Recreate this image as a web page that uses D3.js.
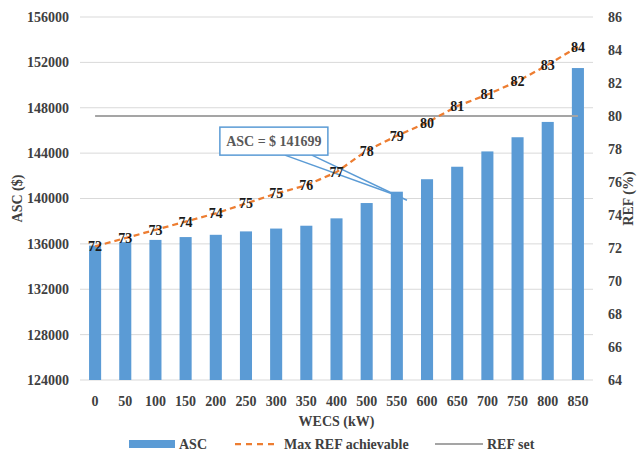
<!DOCTYPE html>
<html>
<head>
<meta charset="utf-8">
<script src="https://cdn.jsdelivr.net/npm/d3@7"></script>
<style>
  html, body { margin: 0; padding: 0; background: #fff; }
  svg { display: block; }
  svg text { font-family: "Liberation Serif", "DejaVu Serif", "Times New Roman", Times, serif !important; font-weight: bold; }
</style>
</head>
<body>
<svg id="chart" width="640" height="451"></svg>
<script>
// WECS size categories (kW)
const wecs = ["0","50","100","150","200","250","300","350","400","500","550","600","650","700","750","800","850"];
// Annual system cost ($)
const asc = [135850, 136150, 136350, 136600, 136800, 137100, 137350, 137600, 138250, 139600, 140600, 141699, 142800, 144150, 145400, 146750, 151500];
// Maximum renewable energy fraction achievable (%)
const refMax = [72.1, 72.6, 73.1, 73.6, 74.1, 74.7, 75.3, 75.8, 76.6, 77.9, 78.8, 79.6, 80.6, 81.3, 82.1, 83.1, 84.2];
// Renewable energy fraction target (%)
const refSet = 80;
// Axis ticks
const ascTicks = [124000, 128000, 132000, 136000, 140000, 144000, 148000, 152000, 156000];
const refTicks = [64, 66, 68, 70, 72, 74, 76, 78, 80, 82, 84, 86];
// Highlighted annotation
const calloutCategory = "600";
const calloutText = "ASC = $ 141699";

const FONT = "'Liberation Serif', 'DejaVu Serif', serif";
const svg = d3.select("#chart");
const m = { left: 80, right: 593, top: 17, bottom: 380 };

const x = d3.scaleBand().domain(wecs).range([m.left, m.right]);
const yL = d3.scaleLinear().domain([124000, 156000]).range([m.bottom, m.top]);
const yR = d3.scaleLinear().domain([64, 86]).range([m.bottom, m.top]);
const barW = x.step() * 0.4;
const cx = d => x(d) + x.bandwidth() / 2;

// Gridlines
svg.append("g").selectAll("line").data(ascTicks).join("line")
  .attr("x1", m.left).attr("x2", m.right)
  .attr("y1", d => yL(d)).attr("y2", d => yL(d))
  .attr("stroke", "#d9d9d9").attr("stroke-width", 1);

function styleAxis(g) {
  g.attr("font-family", FONT);
  g.select(".domain").remove();
  g.selectAll("text").attr("font-size", 14).attr("fill", "#404040")
    .attr("font-family", FONT).attr("font-weight", "bold");
}

// Left axis
svg.append("g").attr("transform", `translate(${m.left - 8},0)`)
  .call(d3.axisLeft(yL).tickValues(ascTicks).tickFormat(d3.format("d")).tickSize(0))
  .call(styleAxis);

// Right axis
svg.append("g").attr("transform", `translate(${m.right + 12},0)`)
  .call(d3.axisRight(yR).tickValues(refTicks).tickFormat(d3.format("d")).tickSize(0))
  .call(styleAxis);

// Bottom axis
svg.append("g").attr("transform", `translate(0,${m.bottom + 10})`)
  .call(d3.axisBottom(x).tickSize(0))
  .call(styleAxis)
  .selectAll("text").attr("dy", "0.9em");

// Bars
svg.append("g").selectAll("rect").data(wecs).join("rect")
  .attr("x", (d) => cx(d) - barW / 2)
  .attr("width", barW)
  .attr("y", (d, i) => yL(asc[i]))
  .attr("height", (d, i) => yL(124000) - yL(asc[i]))
  .attr("fill", "#5b9bd5");

// REF set line
svg.append("line")
  .attr("x1", cx(wecs[0])).attr("x2", cx(wecs[wecs.length - 1]))
  .attr("y1", yR(refSet)).attr("y2", yR(refSet))
  .attr("stroke", "#a5a5a5").attr("stroke-width", 2);

// Callout for the highlighted bar
const ci = wecs.indexOf(calloutCategory);
const boxX = x("250") - 11, boxY = yL(144000) - 26, boxW = 108, boxH = 28;
const tipX = x(calloutCategory) - 9, tipY = yL(asc[ci]) + 19;
const callout = svg.append("g");
callout.append("line")
  .attr("x1", boxX + 65).attr("y1", boxY + boxH)
  .attr("x2", tipX - 4).attr("y2", tipY - 2)
  .attr("stroke", "#5b9bd5").attr("stroke-width", 1.5);
callout.append("line")
  .attr("x1", boxX + 92).attr("y1", boxY + boxH)
  .attr("x2", tipX + 4).attr("y2", tipY + 2)
  .attr("stroke", "#5b9bd5").attr("stroke-width", 1.5);
callout.append("rect")
  .attr("x", boxX).attr("y", boxY).attr("width", boxW).attr("height", boxH)
  .attr("fill", "#fff").attr("stroke", "#5b9bd5").attr("stroke-width", 1.5);
callout.append("text")
  .attr("x", boxX + boxW / 2).attr("y", boxY + boxH / 2).attr("dy", "0.35em")
  .attr("text-anchor", "middle").attr("font-size", 14).attr("fill", "#595959")
  .text(calloutText);

// Max REF achievable line
const line = d3.line().x((d, i) => cx(wecs[i])).y(d => yR(d));
svg.append("path").datum(refMax)
  .attr("d", line).attr("fill", "none")
  .attr("stroke", "#ed7d31").attr("stroke-width", 2.25)
  .attr("stroke-dasharray", "6,4");

// Data labels
svg.append("g").selectAll("text").data(refMax).join("text")
  .attr("x", (d, i) => cx(wecs[i]))
  .attr("y", d => yR(d)).attr("dy", "0.35em")
  .attr("text-anchor", "middle").attr("font-size", 14).attr("fill", "#1a1a1a")
  .text(d => d3.format(".0f")(d));

// Axis titles
svg.append("text").attr("transform", `translate(22,${(m.top + m.bottom) / 2}) rotate(-90)`)
  .attr("text-anchor", "middle").attr("font-size", 14).attr("fill", "#404040").text("ASC ($)");
svg.append("text").attr("transform", `translate(633,${(m.top + m.bottom) / 2}) rotate(-90)`)
  .attr("text-anchor", "middle").attr("font-size", 14).attr("fill", "#404040").text("REF (%)");
svg.append("text").attr("x", (m.left + m.right) / 2).attr("y", 426)
  .attr("text-anchor", "middle").attr("font-size", 14).attr("fill", "#404040").text("WECS (kW)");

// Legend
const lg = svg.append("g").attr("transform", "translate(0,444)");
lg.append("rect").attr("x", 129).attr("y", -4).attr("width", 46).attr("height", 8).attr("fill", "#5b9bd5");
lg.append("text").attr("x", 179).attr("dy", "0.35em").attr("font-size", 14).attr("fill", "#404040").text("ASC");
lg.append("line").attr("x1", 235).attr("x2", 275).attr("stroke", "#ed7d31")
  .attr("stroke-width", 2.25).attr("stroke-dasharray", "6,5");
lg.append("text").attr("x", 284).attr("dy", "0.35em").attr("font-size", 14).attr("fill", "#404040").text("Max REF achievable");
lg.append("line").attr("x1", 435).attr("x2", 483).attr("stroke", "#a5a5a5").attr("stroke-width", 2);
lg.append("text").attr("x", 487).attr("dy", "0.35em").attr("font-size", 14).attr("fill", "#404040").text("REF set");
</script>
</body>
</html>
